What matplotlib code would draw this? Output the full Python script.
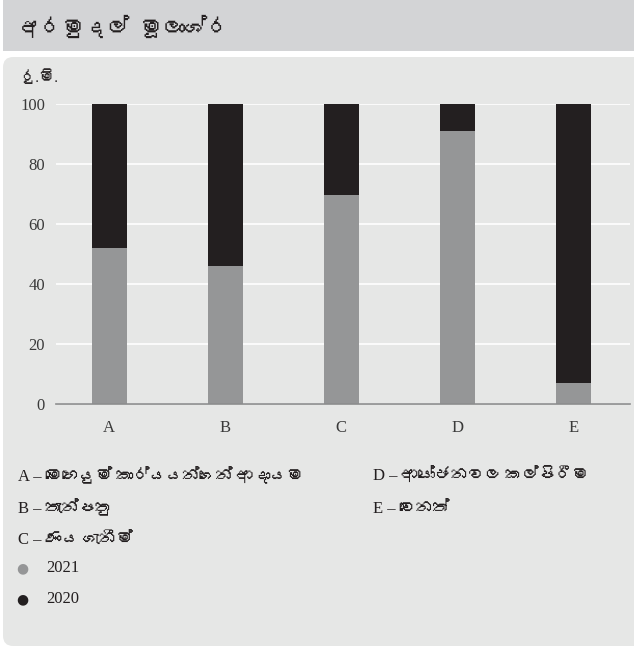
import matplotlib
matplotlib.use("Agg")
import matplotlib.pyplot as plt
from matplotlib import font_manager
from matplotlib.ft2font import FT2Font
from matplotlib.patches import FancyBboxPatch, Rectangle

# ---- data -------------------------------------------------------------
categories = ["A", "B", "C", "D", "E"]
share_2021 = [52, 46, 69.5, 91, 7]
share_2020 = [48, 54, 30.5, 9, 93]
y_ticks = [0, 20, 40, 60, 80, 100]
title = "අරමුදල් මූලාශ්ර"
unit_label = "රු.මි."
category_names_left = ["A – මෙහෙයුම් කාර්යයන්ගෙන් ආදායම", "B – තැන්පතු", "C – ණය ගැනීම්"]
category_names_right = ["D – ආයෝජනවල කල්පිරීම", "E – වෙනත්"]
series_labels = ["2021", "2020"]

COL_2021 = "#959697"
COL_2020 = "#231f20"
PANEL = "#e6e7e6"
HEADER = "#d3d4d6"
TEXT = "#231f20"


def sinhala_family():
    """Return an installed family that covers the Sinhala block, if any."""
    for f in font_manager.fontManager.ttflist:
        try:
            cmap = FT2Font(f.fname).get_charmap()
        except Exception:
            continue
        if 0x0D85 in cmap and 0x0DCA in cmap:
            return f.name
    return None


sin = sinhala_family()
serif_fams = ["Liberation Serif", "DejaVu Serif"]
text_fams = ["Liberation Serif"] + ([sin] if sin else []) + ["DejaVu Serif"]
sin_fams = ([sin] if sin else []) + ["DejaVu Sans"]

fig = plt.figure(figsize=(6.34, 6.46), dpi=100)
W, H = 634, 646


def fx(px):
    return px / W


def fy(py):
    return 1 - py / H


# header band and panel, kept behind the axes
fig.patches.append(Rectangle((fx(3), fy(51)), fx(634) - fx(3), fy(0) - fy(51),
                             transform=fig.transFigure, facecolor=HEADER,
                             edgecolor="none", zorder=-5))
fig.patches.append(FancyBboxPatch((fx(3), 0.0), 1.2, fy(57),
                                  boxstyle="round,pad=0,rounding_size=0.016",
                                  transform=fig.transFigure, facecolor=PANEL,
                                  edgecolor="none", zorder=-5))

fig.text(fx(18), fy(35), title, fontsize=16, color=TEXT, family=sin_fams,
         va="baseline", ha="left")
fig.text(fx(20), fy(82), unit_label, fontsize=11, color=TEXT, family=text_fams,
         va="baseline", ha="left")

# plot area: x 56..630 px, y 103.5..403.5 px for 0..100
ax = fig.add_axes([fx(56), fy(403.5), fx(630) - fx(56), fy(103.5) - fy(403.5)])
ax.set_zorder(2)
ax.patch.set_visible(False)
x = list(range(len(categories)))
ax.bar(x, share_2021, width=0.30, color=COL_2021, zorder=3)
ax.bar(x, share_2020, width=0.30, bottom=share_2021, color=COL_2020, zorder=3)
ax.set_xlim(-0.46, 4.49)
ax.set_ylim(0, 100)
ax.set_yticks(y_ticks)
ax.set_xticks(x)
ax.set_xticklabels(categories)
for s in ["top", "right", "left"]:
    ax.spines[s].set_visible(False)
ax.spines["bottom"].set_color("#8c8d8e")
ax.spines["bottom"].set_linewidth(1.2)
ax.spines["bottom"].set_zorder(4)
ax.grid(axis="y", color="white", linewidth=1.2, zorder=1)
ax.set_axisbelow(True)
ax.tick_params(axis="both", length=0, labelsize=12, colors="#3a3a3a")
ax.tick_params(axis="x", pad=12)
ax.tick_params(axis="y", pad=8)
for lab in ax.get_xticklabels() + ax.get_yticklabels():
    lab.set_family(serif_fams)

# category key and series legend
for i, t in enumerate(category_names_left):
    fig.text(fx(18), fy(481 + 32 * i), t, fontsize=12, color=TEXT,
             family=text_fams, va="baseline", ha="left")
for i, t in enumerate(category_names_right):
    fig.text(fx(373), fy(481 + 32 * i), t, fontsize=12, color=TEXT,
             family=text_fams, va="baseline", ha="left")
for i, (lab, col) in enumerate(zip(series_labels, [COL_2021, COL_2020])):
    yy = 568 + 31 * i
    fig.text(fx(22), fy(yy), "●", fontsize=10, color=col, family="DejaVu Sans",
             va="center", ha="center")
    fig.text(fx(46), fy(yy), lab, fontsize=12, color=TEXT, family=serif_fams,
             va="center", ha="left")

fig.savefig("out.png", dpi=100, facecolor="white")
